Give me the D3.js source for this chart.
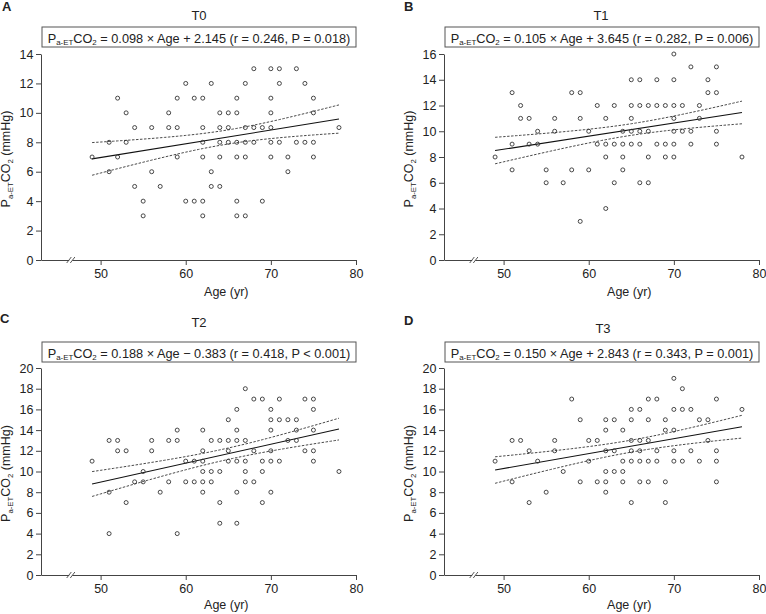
<!DOCTYPE html>
<html><head><meta charset="utf-8">
<script src="https://cdn.jsdelivr.net/npm/d3@7"></script>
<style>
body{margin:0;background:#fff}
svg{display:block}
text{font-family:"Liberation Sans",Arial,Helvetica,sans-serif;fill:#222}
</style>
</head><body>
<svg id="c" width="766" height="614"></svg>
<script>
// ---------------- DATA ----------------
const panelLetters = ["A", "B", "C", "D"];
const panelTitles = ["T0", "T1", "T2", "T3"];
const xTicks = [50, 60, 70, 80];
const yMaxes = [14, 16, 20, 20];
const equationTexts = [
  " = 0.098 \u00D7 Age + 2.145 (r = 0.246, P = 0.018)",
  " = 0.105 \u00D7 Age + 3.645 (r = 0.282, P = 0.006)",
  " = 0.188 \u00D7 Age \u2212 0.383 (r = 0.418, P < 0.001)",
  " = 0.150 \u00D7 Age + 2.843 (r = 0.343, P = 0.001)"
];
// [age, PaETCO2]
const t0Points = [[49,7],[51,8],[51,6],[52,11],[52,7],[53,10],[53,8],[54,9],[54,5],[55,4],[55,3],[56,9],[56,6],[57,5],[58,10],[58,9],[59,11],[59,9],[59,7],[60,12],[60,4],[61,11],[61,4],[62,11],[62,9],[62,8],[62,7],[62,4],[62,3],[63,12],[63,6],[63,5],[64,10],[64,9],[64,8],[64,7],[64,5],[65,10],[65,9],[65,8],[66,11],[66,10],[66,8],[66,7],[66,4],[66,3],[67,12],[67,9],[67,8],[67,7],[67,3],[68,13],[68,9],[68,8],[69,9],[69,4],[70,13],[70,11],[70,10],[70,9],[70,8],[70,7],[71,13],[71,12],[71,8],[72,7],[72,6],[73,13],[73,8],[74,12],[74,8],[75,11],[75,10],[75,8],[75,7],[78,9]];
const t1Points = [[49,8],[51,13],[51,9],[51,7],[52,12],[52,11],[53,11],[53,9],[54,10],[54,9],[55,7],[55,6],[56,11],[56,10],[57,6],[58,13],[58,7],[59,13],[59,11],[59,3],[60,10],[60,7],[61,12],[61,9],[62,11],[62,9],[62,8],[62,4],[63,12],[63,9],[63,6],[64,10],[64,9],[64,8],[64,7],[65,14],[65,12],[65,11],[65,10],[65,9],[66,14],[66,12],[66,10],[66,9],[66,6],[67,12],[67,10],[67,8],[67,6],[68,14],[68,12],[68,9],[69,12],[69,9],[69,8],[70,16],[70,14],[70,12],[70,11],[70,10],[70,9],[70,8],[71,12],[71,10],[72,15],[72,10],[72,9],[73,12],[73,11],[74,14],[74,13],[75,15],[75,13],[75,10],[75,9],[78,8]];
const t2Points = [[49,11],[51,13],[51,8],[51,4],[52,13],[52,12],[53,12],[53,7],[54,9],[55,10],[55,9],[56,13],[56,12],[57,8],[58,13],[58,9],[59,14],[59,13],[59,4],[60,11],[60,9],[61,11],[61,9],[62,14],[62,12],[62,11],[62,10],[62,9],[62,8],[63,13],[63,10],[63,9],[64,13],[64,10],[64,7],[64,5],[65,15],[65,13],[65,12],[65,11],[66,16],[66,14],[66,13],[66,11],[66,8],[66,5],[67,18],[67,13],[67,11],[67,10],[67,9],[68,17],[68,12],[68,9],[69,17],[69,11],[69,10],[69,7],[70,16],[70,15],[70,14],[70,12],[70,11],[70,8],[71,17],[71,15],[71,11],[72,15],[72,13],[73,15],[73,14],[73,13],[74,17],[74,12],[75,17],[75,16],[75,14],[75,12],[75,11],[78,10]];
const t3Points = [[49,11],[51,13],[51,9],[52,13],[53,12],[53,7],[54,11],[55,8],[56,13],[56,12],[57,10],[58,17],[59,15],[59,9],[60,13],[60,11],[61,13],[61,9],[62,15],[62,14],[62,12],[62,10],[62,9],[62,8],[63,15],[63,12],[63,10],[64,14],[64,11],[64,10],[64,9],[65,16],[65,15],[65,13],[65,12],[65,11],[65,7],[66,16],[66,13],[66,12],[66,11],[66,9],[67,17],[67,15],[67,13],[67,11],[67,9],[68,17],[68,12],[68,11],[69,15],[69,14],[69,9],[69,7],[70,19],[70,16],[70,14],[70,12],[70,11],[71,18],[71,16],[71,11],[72,16],[72,12],[73,15],[73,11],[74,15],[74,13],[75,17],[75,12],[75,11],[75,9],[78,16]];
const allPoints = [t0Points, t1Points, t2Points, t3Points];
// fitted line values at the first and last age
const fitAgeRange = [49, 78];
const fitEnds = [[6.87, 9.58], [8.50, 11.46], [8.79, 14.10], [10.14, 14.33]];
// 95% CI half-widths: [at 49, narrowest, at 78]
const ciHalfWidths = [[1.11, 0.48, 0.96], [1.03, 0.45, 0.88], [1.20, 0.55, 1.05], [1.28, 0.58, 1.10]];

// ---------------- LAYOUT ----------------
const layouts = [
  {x0:41,  x1:356, yTop:54,  yBot:260, box:[42,27,356,47],   eqW:303, letter:[2,11],    title:[199,20],  xTitle:296, yLab:10},
  {x0:444, x1:759, yTop:54,  yBot:260, box:[445,27,759,47],  eqW:303, letter:[404,11],  title:[601,20],  xTitle:296, yLab:413},
  {x0:41,  x1:356, yTop:368, yBot:575, box:[42,342,356,362], eqW:303, letter:[0,323],   title:[199,327], xTitle:609, yLab:10},
  {x0:444, x1:759, yTop:368, yBot:575, box:[445,342,759,362],eqW:303, letter:[404,325], title:[603,333], xTitle:609, yLab:413}
];

const svg = d3.select("#c");
const FS = 12.5;

function addPaEt(textSel, fs){
  textSel.append("tspan").text("P");
  textSel.append("tspan").attr("font-size", fs*0.62).attr("dy", fs*0.22).text("a-ET");
  textSel.append("tspan").attr("dy", -fs*0.22).text("CO");
  textSel.append("tspan").attr("font-size", fs*0.62).attr("dy", fs*0.22).text("2");
}

layouts.forEach((L, i) => {
  const g = svg.append("g");
  const x = d3.scaleLinear().domain([43, 80]).range([L.x0, L.x1]);
  const y = d3.scaleLinear().domain([0, yMaxes[i]]).range([L.yBot, L.yTop]);

  // axes
  const xa = g.append("g").attr("transform", `translate(0,${L.yBot})`)
    .call(d3.axisBottom(x).tickValues(xTicks).tickSize(5).tickSizeOuter(0).tickPadding(4));
  const ya = g.append("g").attr("transform", `translate(${L.x0},0)`)
    .call(d3.axisLeft(y).tickValues(d3.range(0, yMaxes[i] + 1, 2)).tickSize(5).tickSizeOuter(0).tickPadding(2.5));
  [xa, ya].forEach(a => {
    a.selectAll("path,line").attr("stroke", "#444").attr("stroke-width", 1);
    a.selectAll("text").attr("font-size", FS).attr("fill", "#222")
      .attr("font-family", '"Liberation Sans",Arial,sans-serif');
  });

  // axis break
  const bx = x(46.5), by = L.yBot;
  g.append("rect").attr("x", bx - 1.6).attr("y", by - 1.5).attr("width", 3.2).attr("height", 3).attr("fill", "#fff");
  [-1.8, 1.8].forEach(d => {
    g.append("line").attr("x1", bx + d - 2.3).attr("y1", by + 3).attr("x2", bx + d + 2.3).attr("y2", by - 3)
      .attr("stroke", "#444").attr("stroke-width", 0.9);
  });

  // CI bands
  const [f49, f78] = fitEnds[i];
  const [a0, a1] = fitAgeRange;
  const fit = a => f49 + (f78 - f49) * (a - a0) / (a1 - a0);
  const [h49, h0, h78] = ciHalfWidths[i];
  const r = Math.sqrt((h49*h49 - h0*h0) / (h78*h78 - h0*h0));
  const xm = (a0 + r * a1) / (1 + r);
  const k = (h49*h49 - h0*h0) / ((xm - a0) * (xm - a0));
  const hw = a => Math.sqrt(h0*h0 + k * (a - xm) * (a - xm));
  const ages = d3.range(a0, a1 + 0.001, 0.5);
  const line = d3.line().x(d => x(d[0])).y(d => y(d[1]));
  [1, -1].forEach(s => {
    g.append("path").attr("d", line(ages.map(a => [a, fit(a) + s * hw(a)])))
      .attr("fill", "none").attr("stroke", "#333").attr("stroke-width", 0.9).attr("stroke-dasharray", "2.5,1.5");
  });
  g.append("path").attr("d", line([[a0, fit(a0)], [a1, fit(a1)]]))
    .attr("fill", "none").attr("stroke", "#111").attr("stroke-width", 1.1);

  // points
  g.selectAll("circle.pt").data(allPoints[i]).join("circle").attr("class", "pt")
    .attr("cx", d => x(d[0])).attr("cy", d => y(d[1])).attr("r", 2)
    .attr("fill", "none").attr("stroke", "#333").attr("stroke-width", 0.9);

  // panel letter & title
  g.append("text").attr("x", L.letter[0]).attr("y", L.letter[1]).attr("font-size", 13)
    .attr("font-weight", "bold").text(panelLetters[i]);
  g.append("text").attr("x", L.title[0]).attr("y", L.title[1]).attr("font-size", 13)
    .attr("text-anchor", "middle").text(panelTitles[i]);

  // equation box
  const [bx0, by0, bx1, by1] = L.box;
  g.append("rect").attr("x", bx0).attr("y", by0).attr("width", bx1 - bx0).attr("height", by1 - by0)
    .attr("fill", "#fff").attr("stroke", "#555").attr("stroke-width", 1);
  const eq = g.append("text").attr("x", (bx0 + bx1) / 2).attr("y", by1 - 4.5)
    .attr("text-anchor", "middle").attr("font-size", FS);
  addPaEt(eq, FS);
  eq.append("tspan").attr("dy", -FS*0.22).text(equationTexts[i]);
  const w = eq.node().getComputedTextLength();
  const fs2 = FS * L.eqW / w;
  eq.attr("font-size", fs2);
  eq.selectAll("tspan").each(function(d, j){
    const t = d3.select(this);
    if (j === 1 || j === 3) { t.attr("font-size", fs2*0.62).attr("dy", fs2*0.22); }
    else if (j === 2 || j === 4) { t.attr("dy", -fs2*0.22); }
  });

  // axis titles
  g.append("text").attr("x", (x(50) + x(80)) / 2 - 2).attr("y", L.xTitle).attr("font-size", FS)
    .attr("text-anchor", "middle").text("Age (yr)");
  const yl = g.append("text").attr("transform", `translate(${L.yLab},${(L.yTop + L.yBot) / 2 + 2}) rotate(-90)`)
    .attr("text-anchor", "middle").attr("font-size", FS);
  addPaEt(yl, FS);
  yl.append("tspan").attr("dy", -FS*0.22).text(" (mmHg)");
});
</script>
</body></html>
